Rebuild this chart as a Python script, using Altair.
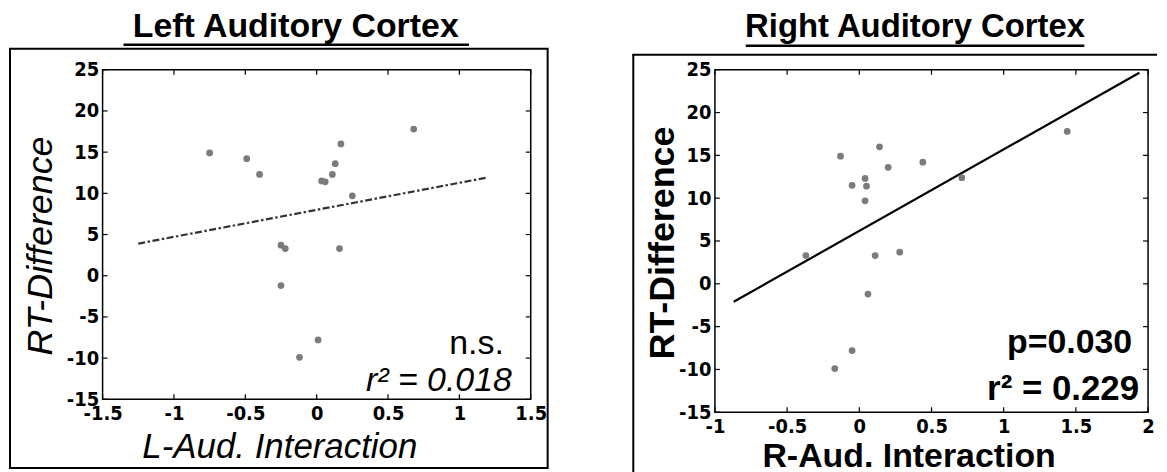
import altair as alt
import pandas as pd

# ---------------- data ----------------
left_x = [-0.75, -0.49, -0.40, 0.68, 0.17, 0.13, 0.11, 0.035, 0.06, 0.25, -0.25, -0.22, 0.16, -0.25, 0.01, -0.12]
left_y = [14.9, 14.2, 12.3, 17.8, 16.0, 13.6, 12.3, 11.5, 11.4, 9.7, 3.7, 3.3, 3.3, -1.2, -7.8, -9.9]

right_x = [-0.37, -0.13, -0.05, 0.04, 0.05, 0.04, 0.14, 0.20, 0.44, 0.71, 1.44, 0.11, 0.28, 0.06, -0.05, -0.17]
right_y = [3.3, 14.9, 11.5, 12.3, 11.4, 9.7, 16.0, 13.6, 14.2, 12.4, 17.8, 3.3, 3.7, -1.2, -7.8, -9.9]

left_fit_x = [-1.25, 1.19]
left_fit_y = [3.9, 11.9]
right_fit_x = [-0.87, 1.94]
right_fit_y = [-2.1, 24.65]

left_xticks = [-1.5, -1, -0.5, 0, 0.5, 1, 1.5]
right_xticks = [-1, -0.5, 0, 0.5, 1, 1.5, 2]
yticks = [-15, -10, -5, 0, 5, 10, 15, 20, 25]

left_title = "Left Auditory Cortex"
right_title = "Right Auditory Cortex"
left_xlabel = "L-Aud. Interaction"
right_xlabel = "R-Aud. Interaction"
ylabel = "RT-Difference"
left_notes = ["n.s.", "r² = 0.018"]
right_notes = ["p=0.030", "r² = 0.229"]

FONT = "Liberation Sans, Arial, sans-serif"
TICKFONT = "'Liberation Sans Narrow', 'Arial Narrow', 'DejaVu Sans Condensed', sans-serif"
LABEL_EXPR = "datum.value < 0 ? '-' + format(-datum.value, '~g') : format(datum.value, '~g')"


def one(label=""):
    return pd.DataFrame({"label": [label]})


def text_layer(label, x, y, size, weight="normal", style="normal",
               align="center", baseline="alphabetic", angle=0):
    kw = dict(fontSize=size, fontWeight=weight, fontStyle=style, align=align,
              baseline=baseline, font=FONT, color="black")
    if angle:
        kw["angle"] = angle
    return alt.Chart(one(label)).mark_text(**kw).encode(
        x=alt.value(x), y=alt.value(y), text="label:N")


def frame_layers(fr, open_right):
    x1, x2, y1, y2 = fr
    if not open_right:
        return [alt.Chart(one()).mark_rect(fillOpacity=0, stroke="black", strokeWidth=2).encode(
            x=alt.value(x1), x2=alt.value(x2), y=alt.value(y1), y2=alt.value(y2))]
    # frame that continues past the picture's right and bottom edges
    top = alt.Chart(one()).mark_rule(color="black", strokeWidth=2).encode(
        x=alt.value(x1 - 1), x2=alt.value(x2), y=alt.value(y1))
    side = alt.Chart(one()).mark_rule(color="black", strokeWidth=2).encode(
        x=alt.value(x1), y=alt.value(y1), y2=alt.value(y2))
    return [top, side]


def panel(px, py, fx, fy, xticks, xdom, W, H, lcfg):
    sx = alt.Scale(domain=xdom, nice=False, zero=False)
    sy = alt.Scale(domain=[-15, 25], nice=False, zero=False)
    common = dict(labelExpr=LABEL_EXPR, ticks=False, domain=False, grid=False,
                  labelFont=TICKFONT, labelFontSize=20, labelFontWeight="bold",
                  labelColor="black", labelPadding=4, labelOverlap=False,
                  labelFlush=False)
    ax = alt.Axis(values=xticks, **common)
    ay = alt.Axis(values=yticks, **common)
    X = alt.X("x:Q", scale=sx, axis=ax, title=None)
    Y = alt.Y("y:Q", scale=sy, axis=ay, title=None)

    pts = alt.Chart(pd.DataFrame({"x": px, "y": py})).mark_circle(
        size=46, color="#7b7b7b", opacity=1).encode(x=X, y=Y)

    line_kw = dict(color=lcfg["line_color"], strokeWidth=2.2)
    if lcfg["dash"]:
        line_kw["strokeDash"] = lcfg["dash"]
    fit = alt.Chart(pd.DataFrame({"x": fx, "y": fy})).mark_line(**line_kw).encode(x=X, y=Y)

    xt = pd.DataFrame({"x": xticks})
    yt = pd.DataFrame({"y": yticks})
    L = 5
    tb = alt.Chart(xt).mark_rule(color="black", strokeWidth=1.2).encode(
        x=X, y=alt.value(H - L), y2=alt.value(H))
    tt = alt.Chart(xt).mark_rule(color="black", strokeWidth=1.2).encode(
        x=X, y=alt.value(0), y2=alt.value(L))
    tl = alt.Chart(yt).mark_rule(color="black", strokeWidth=1.2).encode(
        y=Y, x=alt.value(0), x2=alt.value(L))
    tr = alt.Chart(yt).mark_rule(color="black", strokeWidth=1.2).encode(
        y=Y, x=alt.value(W - L), x2=alt.value(W))

    frames = frame_layers(lcfg["frame"], lcfg["open"])

    ul = lcfg["underline"]
    underline = alt.Chart(one()).mark_rule(color="black", strokeWidth=2.5).encode(
        x=alt.value(ul[0]), x2=alt.value(ul[1]), y=alt.value(ul[2]))

    t = lcfg["title"]
    title = text_layer(t[0], t[1], t[2], t[3], weight="bold")

    yl = lcfg["ylab"]
    ytitle = text_layer(ylabel, yl[0], yl[1], yl[2], weight=lcfg["lab_weight"],
                        style=lcfg["lab_style"], baseline="middle", angle=270)
    xl = lcfg["xlab"]
    xtitle = text_layer(xl[0], xl[1], xl[2], xl[3], weight=lcfg["lab_weight"],
                        style=lcfg["lab_style"])

    notes = [text_layer(n[0], n[1], n[2], n[3], weight=n[4], style=n[5], align="right")
             for n in lcfg["notes"]]

    return alt.layer(*frames, underline, title, ytitle, xtitle, tb, tt, tl, tr,
                     fit, pts, *notes).properties(width=W, height=H)


left = panel(left_x, left_y, left_fit_x, left_fit_y, left_xticks, [-1.5, 1.5], 430, 331, {
    "line_color": "#333333", "dash": [7, 2.5, 2.5, 2.5],
    "frame": (-93, 447, -21, 400), "open": False,
    "underline": (21, 368, -25),
    "title": (left_title, 194, -33, 34),
    "ylab": (-62, 177, 36),
    "xlab": (left_xlabel, 178, 390, 35),
    "lab_weight": "normal", "lab_style": "italic",
    "notes": [(left_notes[0], 403, 285, 34, "normal", "normal"),
              (left_notes[1], 411, 323, 34, "normal", "italic")],
})

right = panel(right_x, right_y, right_fit_x, right_fit_y, right_xticks, [-1, 2], 435, 344, {
    "line_color": "black", "dash": None,
    "frame": (-82, 444, -15, 405), "open": True,
    "underline": (31, 371, -24),
    "title": (right_title, 201, -33, 33),
    "ylab": (-52, 174, 36),
    "xlab": (right_xlabel, 195, 399, 34),
    "lab_weight": "bold", "lab_style": "normal",
    "notes": [(right_notes[0], 419, 284, 34, "bold", "normal"),
              (right_notes[1], 426, 332, 35, "bold", "normal")],
})

chart = alt.hconcat(left, right, spacing=81).properties(
    padding={"left": 0, "top": 0, "right": 0, "bottom": 0},
    background="white",
).configure_view(stroke="black", strokeWidth=1.5)

chart.save("out.html", embed_options={"renderer": "svg", "actions": False})
